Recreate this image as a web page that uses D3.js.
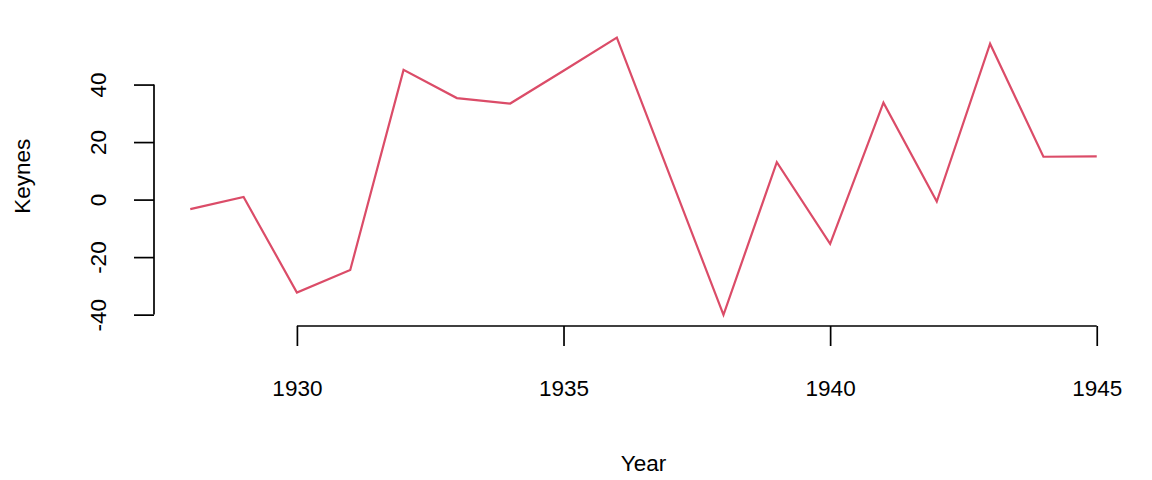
<!DOCTYPE html>
<html>
<head>
<meta charset="utf-8">
<script src="https://cdn.jsdelivr.net/npm/d3@7"></script>
<style>
  html, body { margin: 0; padding: 0; background: #fff; }
  svg { display: block; }
  text { font-family: "Liberation Sans", Arial, sans-serif; fill: #000; }
</style>
</head>
<body>
<svg id="chart" width="1152" height="480"></svg>
<script>
const years = [1928, 1929, 1930, 1931, 1932, 1933, 1934, 1935, 1936, 1937, 1938, 1939, 1940, 1941, 1942, 1943, 1944, 1945];
const keynes = [-3.3, 0.9, -32.3, -24.5, 45.1, 35.3, 33.4, 44.8, 56.3, 8.1, -40.1, 13.0, -15.4, 33.7, -0.7, 54.2, 14.9, 15.0];
const xTicks = [1930, 1935, 1940, 1945];
const yTicks = [-40, -20, 0, 20, 40];
const xLabel = "Year";
const yLabel = "Keynes";

const svg = d3.select("#chart");
const W = 1152, H = 480;
svg.append("rect").attr("width", W).attr("height", H).attr("fill", "#fff");

const plot = { left: 154, right: 1133, top: 26.6, bottom: 326 };

const xMin = d3.min(years), xMax = d3.max(years);
const xPad = (xMax - xMin) * 0.04;
const yMin = d3.min(keynes), yMax = d3.max(keynes);
const yPad = (yMax - yMin) * 0.04;

const x = d3.scaleLinear().domain([xMin - xPad, xMax + xPad]).range([plot.left, plot.right]);
const y = d3.scaleLinear().domain([yMin - yPad, yMax + yPad]).range([plot.bottom, plot.top]);

const fontSize = 22.5;
const fmt = d => String(d);

// line
const line = d3.line().x((d, i) => x(years[i])).y(d => y(d));
svg.append("path")
  .datum(keynes)
  .attr("d", line)
  .attr("fill", "none")
  .attr("stroke", "#DB4C68")
  .attr("stroke-width", 2.2)
  .attr("stroke-linejoin", "miter");

// x axis
const xAxis = svg.append("g").attr("transform", `translate(0,${plot.bottom})`)
  .call(d3.axisBottom(x).tickValues(xTicks).tickFormat(fmt).tickSize(20).tickSizeOuter(0));
xAxis.select(".domain").attr("d", `M${x(xTicks[0])},0H${x(xTicks[xTicks.length-1])}`)
  .attr("stroke", "#000").attr("stroke-width", 1.7);
xAxis.selectAll(".tick line").attr("stroke", "#000").attr("stroke-width", 1.7);
xAxis.selectAll(".tick text")
  .attr("y", 70).attr("dy", 0)
  .style("font-size", fontSize + "px")
  .style("font-family", "'Liberation Sans', Arial, sans-serif")
  .attr("fill", "#000");

// y axis
const yAxis = svg.append("g").attr("transform", `translate(${plot.left},0)`)
  .call(d3.axisLeft(y).tickValues(yTicks).tickFormat(fmt).tickSize(20).tickSizeOuter(0));
yAxis.select(".domain").attr("d", `M0,${y(yTicks[0])}V${y(yTicks[yTicks.length-1])}`)
  .attr("stroke", "#000").attr("stroke-width", 1.7);
yAxis.selectAll(".tick line").attr("stroke", "#000").attr("stroke-width", 1.7);
yAxis.selectAll(".tick text")
  .attr("x", null).attr("dy", null)
  .attr("text-anchor", "middle")
  .attr("transform", "translate(-48,0) rotate(-90)")
  .style("font-size", fontSize + "px")
  .style("font-family", "'Liberation Sans', Arial, sans-serif")
  .attr("fill", "#000");

// axis labels
svg.append("text")
  .attr("x", (plot.left + plot.right) / 2)
  .attr("y", 471)
  .attr("text-anchor", "middle")
  .style("font-size", fontSize + "px")
  .text(xLabel);

svg.append("text")
  .attr("transform", `translate(30,${(plot.top + plot.bottom) / 2}) rotate(-90)`)
  .attr("text-anchor", "middle")
  .style("font-size", fontSize + "px")
  .text(yLabel);
</script>
</body>
</html>
